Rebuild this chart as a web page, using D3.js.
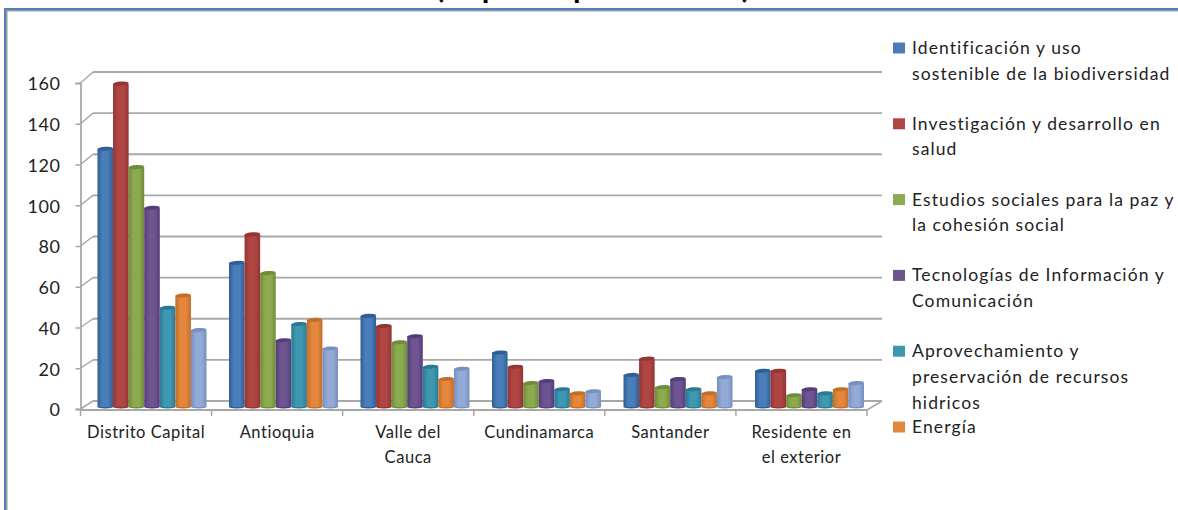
<!DOCTYPE html>
<html lang="es">
<head>
<meta charset="utf-8">
<script src="https://cdn.jsdelivr.net/npm/d3@7/dist/d3.min.js"></script>
<style>
  html, body { margin: 0; padding: 0; background: #fff; overflow: hidden; }
  svg { display: block; }
  text { font-family: Lato, "Noto Sans", sans-serif; fill: #222; }
</style>
</head>
<body>
<svg id="chart" width="1178" height="510"></svg>
<script>
// Regions on the horizontal axis
const categories = [
  ["Distrito Capital"],
  ["Antioquia"],
  ["Valle del", "Cauca"],
  ["Cundinamarca"],
  ["Santander"],
  ["Residente en", "el exterior"]
];

// Counts per region, one list per thematic area
const biodiversidad = [126, 70, 44, 26, 15, 17];
const salud         = [158, 84, 39, 19, 23, 17];
const pazCohesion   = [117, 65, 31, 11,  9,  5];
const tecnologias   = [ 97, 32, 34, 12, 13,  8];
const recursos      = [ 48, 40, 19,  8,  8,  6];
const energia       = [ 54, 42, 13,  6,  6,  8];
const otrasAreas    = [ 37, 28, 18,  7, 14, 11];
const seriesValues = [biodiversidad, salud, pazCohesion, tecnologias, recursos, energia, otrasAreas];

const seriesColors = ["#4a7ebb", "#b04644", "#8cab4f", "#6f5492", "#3f98b2", "#e3873c", "#93aad6"];
const seriesEdges  = ["#2f5e94", "#933533", "#6f8c3b", "#553d78", "#2a7a92", "#c46d28", "#7690c0"];

const legendLabels = [
  ["Identificación y uso", "sostenible de la biodiversidad"],
  ["Investigación y desarrollo en", "salud"],
  ["Estudios sociales para la paz y", "la cohesión social"],
  ["Tecnologías de Información y", "Comunicación"],
  ["Aprovechamiento y", "preservación de recursos", "hidricos"],
  ["Energía"]
];

const yTicks = [0, 20, 40, 60, 80, 100, 120, 140, 160];
const titleParts = ["(To", "p seis ", "por territorio)"];

const svg = d3.select("#chart");
const defs = svg.append("defs");

// Scene layout
const plot = { left: 80.5, right: 867, barsRight: 869.5, floor: 409, top: 83, backLeft: 93, backRight: 882 };

const y = d3.scaleLinear().domain([0, 160]).range([plot.floor, plot.top]);
const yBack = d3.scaleLinear().domain([0, 160]).range([401, 72]);
const yBar = d3.scaleLinear().domain([0, 160]).range([plot.floor - 5, plot.top - 5]);
const xAxisBand = d3.scaleBand().domain(d3.range(categories.length)).range([plot.left, plot.right]);
const x0 = d3.scaleBand().domain(d3.range(categories.length)).range([plot.left, plot.barsRight]);
const x1 = d3.scaleBand().domain(d3.range(seriesValues.length)).range([17, 126]);

// Cylinder shading for each series
seriesColors.forEach((c, i) => {
  const g = defs.append("linearGradient").attr("id", "cyl" + i)
    .attr("x1", 0).attr("x2", 1).attr("y1", 0).attr("y2", 0);
  g.append("stop").attr("offset", "0%").attr("stop-color", seriesEdges[i]);
  g.append("stop").attr("offset", "32%").attr("stop-color", c);
  g.append("stop").attr("offset", "68%").attr("stop-color", c);
  g.append("stop").attr("offset", "100%").attr("stop-color", seriesEdges[i]);
});

// Title, running off the top of the frame; parts are spaced individually
svg.append("text")
  .attr("x", 592.5).attr("y", -2)
  .attr("text-anchor", "middle")
  .attr("font-size", 31).attr("font-weight", 700)
  .style("fill", "#000")
  .style("white-space", "pre")
  .selectAll("tspan")
  .data(titleParts).join("tspan")
  .attr("dx", (d, i) => [0, 5, 7][i])
  .style("letter-spacing", (d, i) => i === 2 ? "-0.7px" : null)
  .text(d => d);

// Outer frame
const frame = svg.append("g");
frame.append("rect").attr("x", 4).attr("y", 8).attr("width", 1174).attr("height", 2).attr("fill", "#4f81bd");
frame.append("rect").attr("x", 6).attr("y", 10).attr("width", 1172).attr("height", 1.5).attr("fill", "#9a9a9a");
frame.append("rect").attr("x", 4).attr("y", 8).attr("width", 2).attr("height", 502).attr("fill", "#4f81bd");
frame.append("rect").attr("x", 6).attr("y", 10).attr("width", 1.5).attr("height", 500).attr("fill", "#9a9a9a");

const gridColor = "#a8a8a8";
const wall = svg.append("g").attr("stroke", gridColor).attr("fill", "none");

// Back wall gridlines and the side wall connectors
wall.selectAll("line.grid").data(yTicks).join("line")
  .attr("class", "grid")
  .attr("x1", plot.backLeft).attr("x2", plot.backRight)
  .attr("y1", d => yBack(d)).attr("y2", d => yBack(d))
  .attr("stroke-width", 1.8);

wall.selectAll("line.side").data(yTicks).join("line")
  .attr("class", "side")
  .attr("x1", plot.left).attr("x2", plot.backLeft)
  .attr("y1", d => y(d)).attr("y2", d => yBack(d))
  .attr("stroke-width", 1.5);

// Floor edges
wall.append("line")
  .attr("x1", plot.right).attr("x2", plot.backRight)
  .attr("y1", y(0) + 1).attr("y2", yBack(0))
  .attr("stroke-width", 1.5);
wall.append("line")
  .attr("x1", plot.left).attr("x2", plot.right)
  .attr("y1", y(0) + 1).attr("y2", y(0) + 1)
  .attr("stroke-width", 2);

// Value axis
const yAxis = svg.append("g")
  .attr("transform", `translate(${plot.left},0)`)
  .call(d3.axisLeft(y).tickValues(yTicks).tickSize(5).tickPadding(15));
yAxis.select(".domain").attr("stroke", gridColor).attr("stroke-width", 1.8);
yAxis.selectAll(".tick line").attr("stroke", gridColor).attr("stroke-width", 1.5);
yAxis.selectAll(".tick text")
  .attr("font-size", 18).attr("font-family", null)
  .attr("dy", "0.38em")
  .style("letter-spacing", "0.6px");

// Category ticks
svg.append("g").selectAll("line")
  .data(d3.range(categories.length + 1)).join("line")
  .attr("x1", d => plot.left + d * xAxisBand.step())
  .attr("x2", d => plot.left + d * xAxisBand.step())
  .attr("y1", y(0) + 1).attr("y2", y(0) + 7)
  .attr("stroke", gridColor).attr("stroke-width", 1.5);

// Cylindrical bars
const groups = svg.append("g").selectAll("g")
  .data(categories).join("g")
  .attr("transform", (d, i) => `translate(${x0(i)},0)`);

groups.each(function (cat, ci) {
  const g = d3.select(this);
  seriesValues.forEach((vals, si) => {
    const v = vals[ci];
    const bx = x1(si), w = x1.bandwidth(), top = yBar(v), bottom = yBar(0) + 3;
    const bar = g.append("g");
    bar.append("ellipse")
      .attr("cx", bx + w / 2).attr("cy", bottom)
      .attr("rx", w / 2).attr("ry", 1.5)
      .attr("fill", seriesEdges[si]);
    bar.append("rect")
      .attr("x", bx).attr("y", top + 1.5)
      .attr("width", w).attr("height", bottom - top - 1.5)
      .attr("fill", `url(#cyl${si})`);
    bar.append("ellipse")
      .attr("cx", bx + w / 2).attr("cy", top + 1.5)
      .attr("rx", w / 2).attr("ry", 2)
      .attr("transform", `rotate(-4 ${bx + w / 2} ${top + 1.5})`)
      .attr("fill", seriesEdges[si]);
  });
});

// Category labels, wrapped on two lines where needed
const catLabels = svg.append("g").selectAll("text")
  .data(categories).join("text")
  .attr("text-anchor", "middle")
  .attr("font-size", 16.5)
  .style("letter-spacing", "0.55px")
  .attr("transform", (d, i) => `translate(${xAxisBand(i) + xAxisBand.bandwidth() / 2},438)`);
catLabels.selectAll("tspan")
  .data(d => d).join("tspan")
  .attr("x", 0)
  .attr("dy", (d, i) => i ? 24.5 : 0)
  .text(d => d);

// Legend
const legendY = d3.scalePoint().domain(d3.range(legendLabels.length)).range([48, 427]);
const legend = svg.append("g").selectAll("g")
  .data(legendLabels).join("g")
  .attr("transform", (d, i) => `translate(893,${legendY(i)})`);
legend.append("rect")
  .attr("x", 0).attr("y", -5.5).attr("width", 12).attr("height", 11)
  .attr("fill", (d, i) => seriesColors[i]);
legend.append("text")
  .attr("font-size", 17.5)
  .style("letter-spacing", "1.1px")
  .selectAll("tspan")
  .data(d => d).join("tspan")
  .attr("x", 19)
  .attr("y", (d, i) => 6 + i * 25.7)
  .text(d => d);
</script>
</body>
</html>
